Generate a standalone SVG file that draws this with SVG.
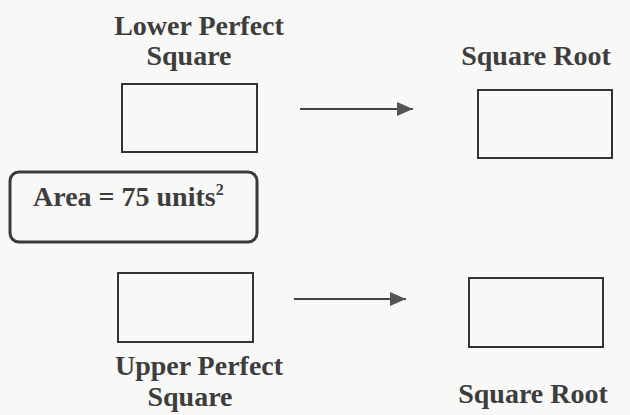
<svg xmlns="http://www.w3.org/2000/svg" width="630" height="415" viewBox="0 0 630 415">
<style>
.t{font-family:"Liberation Serif","Times New Roman",serif;font-weight:bold;font-size:28px;fill:#3d3d3d}
.box{fill:none;stroke:#333;stroke-width:2}
.conn{stroke:#444;stroke-width:2;fill:none}
</style>
<defs>
<marker id="ah" markerWidth="8" markerHeight="7" refX="8" refY="3.5" orient="auto" markerUnits="strokeWidth">
<path d="M0,0 L8,3.5 L0,7 Z" fill="#555"/>
</marker>
</defs>
<rect width="630" height="415" fill="#f8f8f6"/>
<g id="lower-square">
<text class="t" x="199" y="35" text-anchor="middle">Lower Perfect</text>
<text class="t" x="189" y="65" text-anchor="middle">Square</text>
<rect class="box" x="122" y="84" width="135" height="68"/>
</g>
<g id="lower-root">
<text class="t" x="536" y="65" text-anchor="middle">Square Root</text>
<rect class="box" x="478" y="90" width="134" height="68"/>
</g>
<g id="area">
<rect x="10" y="172" width="247" height="70" rx="9" fill="none" stroke="#3a3a3a" stroke-width="3"/>
<text class="t" x="33" y="206" font-size="27">Area = 75 units<tspan font-size="16" dy="-11">2</tspan></text>
</g>
<g id="upper-square">
<rect class="box" x="118" y="273" width="135" height="69"/>
<text class="t" x="199" y="375" text-anchor="middle">Upper Perfect</text>
<text class="t" x="190" y="406" text-anchor="middle">Square</text>
</g>
<g id="upper-root">
<rect class="box" x="469" y="278" width="134" height="69"/>
<text class="t" x="533" y="403" text-anchor="middle">Square Root</text>
</g>
<g id="connectors">
<line class="conn" x1="300" y1="109" x2="413" y2="109" marker-end="url(#ah)"/>
<line class="conn" x1="294" y1="299" x2="406" y2="299" marker-end="url(#ah)"/>
</g>
</svg>
